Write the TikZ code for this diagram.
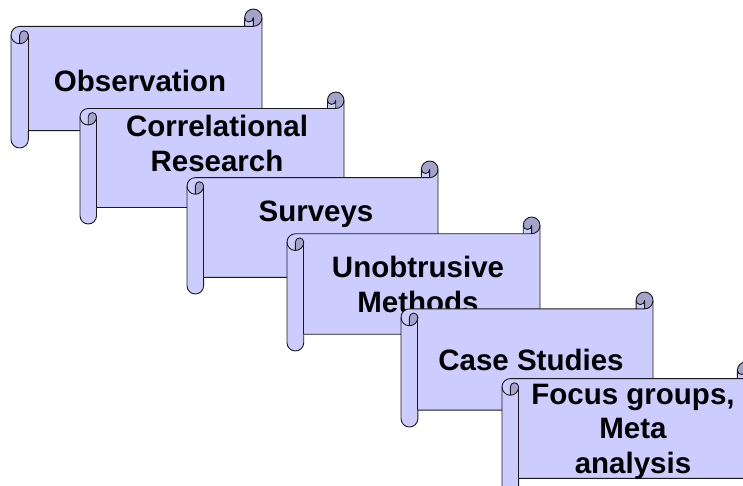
\documentclass[tikz,border=0pt]{standalone}
\usepackage{fontspec}
\setmainfont{Liberation Sans}
\definecolor{scrfill}{HTML}{CCCCFF}
\definecolor{scrdark}{HTML}{A3A3CC}
\definecolor{scrline}{HTML}{1A1A1A}
\tikzset{
  scrollline/.style={draw=scrline, line width=0.9pt, line join=round},
  scrolltext/.style={font=\bfseries\fontsize{29.5}{34.5}\selectfont, inner sep=0pt, align=center, anchor=base, text=black}
}
% #1 left, #2 top, #3 right, #4 bottom (screen pixels, y down)
\newcommand\drawscroll[4]{%
 \begin{scope}[shift={(#1,#2)}]
  \pgfmathsetmacro\scW{#3-#1}
  \pgfmathsetmacro\scH{#4-#2}
  \pgfmathsetmacro\scC{\scH/8}
  \pgfmathsetmacro\scB{\scC/2}
  \pgfmathsetmacro\scD{\scC/4}
  \pgfmathsetmacro\scYc{1.5*\scC}
  \pgfmathsetmacro\scYd{2*\scC}
  \pgfmathsetmacro\scYf{\scH-\scC}
  \pgfmathsetmacro\scYg{\scH-\scB}
  \pgfmathsetmacro\scYe{\scH-1.5*\scC}
  \pgfmathsetmacro\scXc{\scW-\scC}
  \pgfmathsetmacro\scXd{\scW-\scB}
  \path[fill=scrfill] (0,\scYc) arc[start angle=180, delta angle=90, radius=\scB]
     -- (\scXc,\scC) -- (\scXc,\scB) arc[start angle=180, delta angle=180, radius=\scB]
     -- (\scW,\scYe) arc[start angle=0, delta angle=90, radius=\scB]
     -- (\scC,\scYf) -- (\scC,\scYg) arc[start angle=0, delta angle=180, radius=\scB] -- cycle;
  \path[fill=scrdark] (\scXd,\scC) arc[start angle=90, delta angle=-270, radius=\scB]
     arc[start angle=180, delta angle=-180, radius=\scD] -- cycle;
  \path[fill=scrdark] (\scB,\scYd) arc[start angle=90, delta angle=-90, radius=\scB]
     arc[start angle=0, delta angle=-180, radius=\scD] -- cycle;
  \path[scrollline] (0,\scYc) arc[start angle=180, delta angle=90, radius=\scB]
     -- (\scXc,\scC) -- (\scXc,\scB) arc[start angle=180, delta angle=180, radius=\scB]
     -- (\scW,\scYe) arc[start angle=0, delta angle=90, radius=\scB]
     -- (\scC,\scYf) -- (\scC,\scYg) arc[start angle=0, delta angle=180, radius=\scB] -- cycle;
  \path[scrollline] (\scXc,\scC) -- (\scXd,\scC) arc[start angle=90, delta angle=-90, radius=\scB];
  \path[scrollline] (\scXd,\scC) -- (\scXd,\scB) arc[start angle=0, delta angle=180, radius=\scD];
  \path[scrollline] (\scB,\scYd) -- (\scB,\scYc) arc[start angle=180, delta angle=180, radius=\scD]
     arc[start angle=0, delta angle=180, radius=\scB];
  \path[scrollline] (\scC,\scYc) -- (\scC,\scYf);
 \end{scope}}
\begin{document}
\begin{tikzpicture}[x=1pt, y=1pt, yscale=-1]
\useasboundingbox (0,0) rectangle (743,485);
\clip (0,0) rectangle (743,485);
\fill[white] (0,0) rectangle (743,485);
\drawscroll{11}{9}{262}{148}
\node[scrolltext] (obs) at (140,91) {Observation};
\drawscroll{80}{92}{344}{224}
\node[scrolltext] (corr) at (217,171) {Correlational\\Research};
\drawscroll{187}{161}{438}{294}
\node[scrolltext] (surv) at (316,221) {Surveys};
\drawscroll{287}{217}{540}{351}
\node[scrolltext] (unob) at (418,312) {Unobtrusive\\Methods};
\drawscroll{401}{292}{653}{427}
\node[scrolltext] (case) at (531,370) {Case Studies};
\drawscroll{502}{362}{754}{495}
\node[scrolltext] (focus) at (633,473) {Focus groups,\\Meta\\analysis};
\end{tikzpicture}
\end{document}
